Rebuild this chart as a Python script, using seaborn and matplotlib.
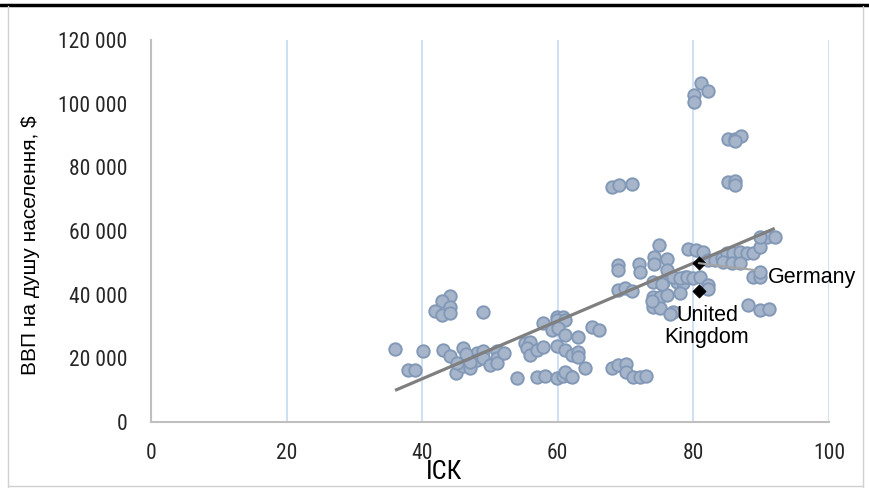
import numpy as np
import pandas as pd
import matplotlib
matplotlib.use("Agg")
import matplotlib.pyplot as plt
import seaborn as sns
from matplotlib.ticker import FuncFormatter

# ---- data (ICK index, GDP per capita in thousand $) ----
isk = [36.0, 40.1, 37.9, 38.9, 44.1, 42.9, 41.9, 42.9, 44.1, 44.1, 49.0,
       43.1, 44.1, 45.0, 46.0, 46.0, 47.0, 48.1, 49.0, 48.1, 49.0, 50.0,
       51.0, 51.0, 51.0, 52.1, 54.0, 55.2, 55.9, 55.5, 55.9, 56.9, 56.9,
       45.1, 47.0, 46.5,
       57.8, 59.9, 60.8, 59.9, 61.1, 59.1, 60.0, 61.1, 63.0, 65.0, 66.1,
       59.9, 61.1, 62.1, 63.0, 63.0, 64.0, 58.1, 59.9, 60.8, 61.8, 61.1, 62.1,
       68.0, 68.9, 70.1, 70.1, 71.1, 72.1, 73.0, 57.8,
       68.9, 69.9, 70.9, 68.9, 68.9, 72.0, 72.1,
       74.0, 75.1, 74.0, 75.1, 76.1, 77.0,
       74.0, 75.5, 77.6, 78.5, 78.8, 78.0,
       74.2, 74.2, 76.1, 76.1, 75.4, 74.9,
       79.2, 80.4, 81.4,
       82.2, 83.2, 84.2, 85.0, 85.8, 86.9, 87.9, 88.8, 89.8, 90.9, 92.0, 89.8,
       84.4, 85.7, 86.9, 88.8, 89.8, 89.8, 88.1, 89.8, 91.1,
       77.0, 78.0, 79.1, 79.9, 81.0, 82.2, 82.2, 76.5, 73.9,
       81.1, 82.2, 80.1, 80.1, 85.1, 86.1, 87.0, 86.1, 85.1, 86.1, 86.1,
       68.0, 69.0, 70.9]
gdp = [22.9, 22.3, 16.3, 16.3, 39.6, 38.0, 34.9, 33.6, 36.1, 34.2, 34.5,
       22.6, 20.7, 15.4, 23.2, 17.6, 17.0, 21.7, 22.3, 19.4, 20.0, 17.9,
       22.3, 20.1, 18.5, 21.7, 13.8, 24.8, 25.1, 23.2, 21.0, 22.6, 14.1,
       18.5, 18.8, 21.5,
       31.1, 33.0, 33.0, 32.0, 32.0, 28.9, 29.5, 27.3, 26.7, 29.8, 28.9,
       23.9, 22.6, 21.0, 22.0, 20.4, 17.0, 14.4, 13.8, 14.4, 14.4, 15.7, 14.1,
       17.0, 17.9, 18.2, 15.7, 14.1, 14.1, 14.4, 23.5,
       41.4, 42.1, 41.1, 49.3, 47.7, 49.6, 47.1,
       39.3, 39.3, 36.1, 35.8, 39.9, 34.5,
       44.0, 44.0, 44.0, 43.6, 45.5, 40.5,
       51.8, 49.6, 51.2, 47.7, 43.3, 55.6,
       54.3, 54.0, 53.4,
       50.9, 50.9, 51.5, 53.1, 53.1, 53.4, 53.1, 53.1, 55.0, 58.1, 58.1, 58.1,
       50.2, 49.9, 49.9, 45.5, 45.5, 47.1, 36.8, 35.2, 35.4,
       45.5, 45.2, 45.5, 45.2, 45.5, 43.0, 41.8, 34.0, 38.0,
       106.4, 103.9, 102.7, 100.5, 88.9, 88.9, 89.8, 88.2, 75.4, 75.7, 74.4,
       73.8, 74.4, 74.7]

hl_names = ["Germany", "United\nKingdom"]
hl_isk = [80.8, 80.8]
hl_gdp = [49.9, 41.1]

x_ticks = [0, 20, 40, 60, 80, 100]
y_ticks = [0, 20000, 40000, 60000, 80000, 100000, 120000]

df = pd.DataFrame({"isk": isk, "gdp": np.array(gdp) * 1000})
hl = pd.DataFrame({"name": hl_names, "isk": hl_isk, "gdp": np.array(hl_gdp) * 1000})

sns.set_theme(style="white")
plt.rcParams["font.family"] = ["Liberation Sans", "DejaVu Sans"]

fig = plt.figure(figsize=(8.7, 4.91), dpi=100)
ax = fig.add_axes([151 / 870, 69 / 491, 678 / 870, 382 / 491])

sns.scatterplot(data=df, x="isk", y="gdp", ax=ax, s=80, color="#A7B5CB",
                edgecolor="#8298B7", linewidth=1.4, zorder=3, legend=False)

# linear trend line over the data range
coef = np.polyfit(df["isk"], df["gdp"], 1)
tx = np.array([df["isk"].min(), df["isk"].max()])
ax.plot(tx, np.polyval(coef, tx), color="#7F7F7F", lw=2.3, zorder=4,
        solid_capstyle="butt")

sns.scatterplot(data=hl, x="isk", y="gdp", ax=ax, marker="D", s=45,
                color="black", edgecolor="black", zorder=5, legend=False)

# labels for highlighted countries
ax.annotate("Germany", xy=(hl_isk[0], hl_gdp[0] * 1000), xytext=(91.0, 45500),
            fontsize=15.5, va="center", ha="left", color="black",
            arrowprops=dict(arrowstyle="-", color="#A5A5A5", lw=1.5,
                            shrinkA=7, shrinkB=0), zorder=6)
ax.text(82.0, 30100, hl_names[1], fontsize=15.5, ha="center", va="center",
        linespacing=1.05, color="black", zorder=6)

ax.set_xlim(0, 100)
ax.set_ylim(0, 120000)
ax.set_xticks(x_ticks)
ax.set_yticks(y_ticks)
ax.yaxis.set_major_formatter(FuncFormatter(lambda v, p: f"{int(v):,}".replace(",", " ")))

narrow = ["Roboto Condensed", "Liberation Sans Narrow", "Liberation Sans", "DejaVu Sans"]
for lab in ax.get_xticklabels() + ax.get_yticklabels():
    lab.set_family(narrow)
    lab.set_fontsize(15.5)
    lab.set_color("#262626")
ax.tick_params(axis="both", length=0)
ax.tick_params(axis="x", pad=15)
ax.tick_params(axis="y", pad=17)

ax.grid(False)
for xv in x_ticks[1:]:
    ax.axvline(xv, color="#C6DAF0", lw=1.2, zorder=1)

for side in ["top", "right"]:
    ax.spines[side].set_visible(False)
for side in ["left", "bottom"]:
    ax.spines[side].set_color("#BFBFBF")
    ax.spines[side].set_linewidth(1.5)

ax.set_xlabel("ІСК", family=narrow, fontsize=19, color="black")
ax.xaxis.set_label_coords((444 - 151) / 678, (422 - 472) / 382)
ax.xaxis.label.set_va("center")
ax.set_ylabel("ВВП на душу населення, $", fontsize=15, color="black")
ax.yaxis.set_label_coords((31 - 151) / 678, (422 - 245) / 382)
ax.yaxis.label.set_va("center")

# outer frame decorations
fig.add_artist(plt.Line2D([0, 1], [1 - 4.5 / 491, 1 - 4.5 / 491], color="black", lw=2.5,
                          transform=fig.transFigure))
fig.add_artist(plt.Line2D([8 / 870, 8 / 870], [4 / 491, 1 - 6 / 491], color="#D0D0D0", lw=1,
                          transform=fig.transFigure))
fig.add_artist(plt.Line2D([863 / 870, 863 / 870], [4 / 491, 1 - 6 / 491], color="#D0D0D0", lw=1,
                          transform=fig.transFigure))
fig.add_artist(plt.Line2D([8 / 870, 863 / 870], [5 / 491, 5 / 491], color="#D0D0D0", lw=1,
                          transform=fig.transFigure))

fig.savefig("out.png", dpi=100)
